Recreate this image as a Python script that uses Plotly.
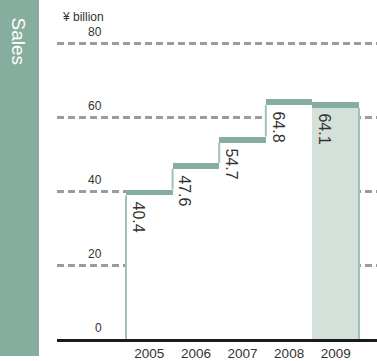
import plotly.graph_objects as go

# Net sales by fiscal year, in billions of yen
years = [2005, 2006, 2007, 2008, 2009]
year_labels = ["2005", "2006", "2007", "2008", "2009"]
sales = [40.4, 47.6, 54.7, 64.8, 64.1]
value_labels = ["40.4", "47.6", "54.7", "64.8", "64.1"]
y_ticks = [0, 20, 40, 60, 80]
y_tick_labels = ["0", "20", "40", "60", "80"]

GREEN = "#86ae9e"
EDGE = "#9fc2b4"
LIGHT = "#d4e0da"
TEXT = "#333333"
FONT = "Liberation Sans, Arial, sans-serif"
BAND = 1.6  # thickness of the cap on each bar, in axis units

W, H = 377, 361
ML, MB = 57, 22
plot_w, plot_h = W - ML, H - MB
px_per_unit = 3.7
y_top = plot_h / px_per_unit
x_lo, x_hi = 2003.02, 2009.885

fig = go.Figure()

# bar bodies (the latest year is shaded)
fills = ["white"] * (len(years) - 1) + [LIGHT]
fig.add_trace(go.Bar(x=years, y=sales, width=1, opacity=1,
                     marker=dict(color=fills, opacity=1, line=dict(width=0)),
                     hoverinfo="skip"))

# thick caps on top of each bar
fig.add_trace(go.Bar(x=years, y=[BAND] * len(sales), base=[v - BAND for v in sales], width=1,
                     opacity=1, marker=dict(color=GREEN, opacity=1, line=dict(width=0)),
                     hoverinfo="skip"))

# thin vertical edges: outer sides down to the baseline, risers between steps
ex, ey = [], []
ex += [years[0] - 0.5, years[0] - 0.5, None]
ey += [0, sales[0] - BAND, None]
for i in range(len(years) - 1):
    lo, hi = min(sales[i], sales[i + 1]), max(sales[i], sales[i + 1]) - BAND
    if hi > lo:
        xb = years[i] + 0.5
        ex += [xb, xb, None]
        ey += [lo, hi, None]
ex += [years[-1] + 0.5, years[-1] + 0.5]
ey += [sales[-1] - BAND, 0]
fig.add_trace(go.Scatter(x=ex, y=ey, mode="lines", line=dict(color=EDGE, width=2),
                         connectgaps=False, hoverinfo="skip"))

annotations = []
for yr, v, lab in zip(years, sales, value_labels):
    annotations.append(dict(x=yr - 0.5, y=v, xref="x", yref="y", text=lab, textangle=90,
                            xanchor="left", yanchor="top", xshift=2, yshift=-10,
                            showarrow=False, font=dict(family=FONT, size=16, color=TEXT)))

for t, lab in zip(y_ticks, y_tick_labels):
    annotations.append(dict(x=(104 - ML) / plot_w, y=t, xref="paper", yref="y", text=lab,
                            xanchor="right", yanchor="bottom", yshift=2, showarrow=False,
                            font=dict(family=FONT, size=12, color=TEXT)))

annotations.append(dict(x=(60 - ML) / plot_w, y=(plot_h - 17) / plot_h, xref="paper", yref="paper",
                        text="¥ billion", xanchor="left", yanchor="middle", showarrow=False,
                        font=dict(family=FONT, size=12, color=TEXT)))

annotations.append(dict(x=(18 - ML) / plot_w, y=(plot_h - 41.5) / plot_h, xref="paper", yref="paper",
                        text="Sales", textangle=90, xanchor="center", yanchor="middle",
                        showarrow=False, font=dict(family=FONT, size=19, color="white")))

fig.update_layout(
    width=W, height=H,
    margin=dict(l=ML, r=0, t=0, b=MB),
    paper_bgcolor="white", plot_bgcolor="white",
    barmode="overlay", bargap=0, showlegend=False,
    annotations=annotations,
    shapes=[dict(type="rect", xref="paper", yref="paper", x0=-ML / plot_w, x1=(39 - ML) / plot_w,
                 y0=(plot_h - 356) / plot_h, y1=1, fillcolor=GREEN, line=dict(width=0), layer="below")],
    xaxis=dict(range=[x_lo, x_hi], tickvals=years, ticktext=year_labels, showgrid=False,
               zeroline=False, showline=True, linecolor="#1a1a1a", linewidth=3, ticks="",
               tickfont=dict(family=FONT, size=13.5, color=TEXT), fixedrange=True),
    yaxis=dict(range=[0, y_top], tickvals=y_ticks, showticklabels=False, showgrid=True,
               gridcolor="#9b9b9b", gridwidth=2.5, griddash="7px,4px", zeroline=False,
               showline=False, ticks="", fixedrange=True),
)

fig.write_html("out.html")
